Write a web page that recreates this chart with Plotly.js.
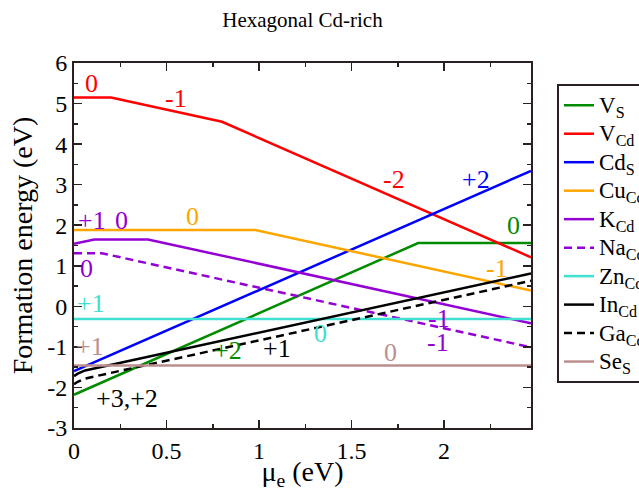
<!DOCTYPE html>
<html>
<head>
<meta charset="utf-8">
<script src="https://cdn.plot.ly/plotly-3.0.1.min.js"></script>
<style>
  html, body { margin: 0; padding: 0; background: #fff; }
  #chart { width: 639px; height: 491px; }
  /* Every label in the figure uses the Times-metric serif face */
  #chart svg text { font-family: 'Liberation Serif', 'Times New Roman', serif !important; }
</style>
</head>
<body>
<div id="chart"></div>
<script>
// Defect formation energies vs. electron chemical potential (Cd-rich, hexagonal)
const muVS = [0, 1.86, 2.47];
const eVS  = [-2.18, 1.56, 1.56];

const muVCd = [0, 0.2, 0.8, 2.47];
const eVCd  = [5.15, 5.15, 4.55, 1.21];

const muCdS = [0, 2.47];
const eCdS  = [-1.60, 3.34];

const muCuCd = [0, 0.98, 2.47];
const eCuCd  = [1.88, 1.88, 0.39];

const muKCd = [0, 0.11, 0.40, 2.47];
const eKCd  = [1.54, 1.65, 1.65, -0.42];

const muNaCd = [0, 0.15, 2.47];
const eNaCd  = [1.31, 1.31, -1.01];

const muZnCd = [0, 2.47];
const eZnCd  = [-0.31, -0.31];

const muInCd = [0, 0.02, 0.06, 2.47];
const eInCd  = [-1.72, -1.66, -1.58, 0.81];

const muGaCd = [0, 0.02, 0.06, 2.47];
const eGaCd  = [-1.92, -1.86, -1.78, 0.63];

const muSeS = [0, 2.47];
const eSeS  = [-1.46, -1.46];

const xTicks = [0, 0.5, 1, 1.5, 2];
const xTickText = ['0', '0.5', '1', '1.5', '2'];
const yTicks = [-3, -2, -1, 0, 1, 2, 3, 4, 5, 6];
const yTickText = ['-3', '-2', '-1', '0', '1', '2', '3', '4', '5', '6'];

// Charge-state labels: text, position (mu, energy) and colour
const chargeText  = ['0', '-1', '-2', '+2', '0', '0', '-1', '+1', '0', '0', '-1', '-1', '+1', '0', '+1', '0', '+2', '+1', '+3,+2'];
const chargeMu    = [0.096, 0.551, 1.728, 2.173, 2.378, 0.641, 2.284, 0.096, 0.258, 0.069, 1.975, 1.970, 0.090, 1.330, 0.086, 1.708, 0.834, 1.095, 0.285];
const chargeE     = [5.49, 5.12, 3.13, 3.12, 1.99, 2.21, 0.93, 2.12, 2.12, 0.94, -0.31, -0.89, 0.07, -0.67, -0.99, -1.13, -1.09, -1.03, -2.28];

const GREEN = '#008b00', RED = '#ff0000', BLUE = '#0000ff', ORANGE = '#ffa500',
      VIOLET = '#9400d3', TURQ = '#40e0d0', BLACK = '#000000', BROWN = '#bc8f8f';
const chargeColor = [RED, RED, RED, BLUE, GREEN, ORANGE, ORANGE, VIOLET, VIOLET, VIOLET, VIOLET, VIOLET,
                     TURQ, TURQ, BROWN, BROWN, GREEN, BLACK, BLACK];

const FONT = 'Liberation Serif';
const FRAME = '#2a2020';

function line(x, y, name, color, dash) {
  return {
    type: 'scatter', mode: 'lines', x: x, y: y,
    name: '<span style="font-size:23px">' + name + '</span>',
    line: { color: color, width: 2.5, dash: dash || 'solid' },
    hoverinfo: 'skip'
  };
}

const traces = [
  line(muVS,   eVS,   'V<sub>S</sub>',   GREEN),
  line(muVCd,  eVCd,  'V<sub>Cd</sub>',  RED),
  line(muCdS,  eCdS,  'Cd<sub>S</sub>',  BLUE),
  line(muCuCd, eCuCd, 'Cu<sub>Cd</sub>', ORANGE),
  line(muKCd,  eKCd,  'K<sub>Cd</sub>',  VIOLET),
  line(muNaCd, eNaCd, 'Na<sub>Cd</sub>', VIOLET, '8px,5px'),
  line(muZnCd, eZnCd, 'Zn<sub>Cd</sub>', TURQ),
  line(muInCd, eInCd, 'In<sub>Cd</sub>', BLACK),
  line(muGaCd, eGaCd, 'Ga<sub>Cd</sub>', BLACK, '8px,5px'),
  line(muSeS,  eSeS,  'Se<sub>S</sub>',  BROWN)
];

const annotations = chargeText.map((t, i) => ({
  text: t, x: chargeMu[i], y: chargeE[i], xref: 'x', yref: 'y',
  showarrow: false, xanchor: 'center', yanchor: 'middle',
  font: { family: FONT, size: 26, color: chargeColor[i] }
}));

const axisCommon = {
  ticks: 'inside', ticklen: 8, tickwidth: 1.5, tickcolor: FRAME,
  showline: true, linewidth: 2, linecolor: FRAME, mirror: 'allticks',
  showgrid: false, zeroline: false,
  tickfont: { family: FONT, size: 24, color: '#000' }
};

const layout = {
  width: 639, height: 491,
  margin: { l: 74, r: 108, t: 63, b: 63, autoexpand: false },
  paper_bgcolor: '#fff', plot_bgcolor: '#fff',
  font: { family: FONT, color: '#000' },
  title: {
    text: 'Hexagonal Cd-rich',
    font: { family: FONT, size: 21, color: '#000' },
    x: 0.5, xref: 'paper', y: 1 - 20 / 491, yref: 'container', yanchor: 'middle'
  },
  xaxis: Object.assign({}, axisCommon, {
    range: [0, 2.47], tickmode: 'array', tickvals: xTicks, ticktext: xTickText,
    minor: { tickmode: 'linear', tick0: 0, dtick: 0.25, ticks: 'inside', ticklen: 4, tickwidth: 1.5, tickcolor: FRAME },
    title: { text: 'μ<sub>e</sub> (eV)', font: { family: FONT, size: 28, color: '#000' }, standoff: 4 }
  }),
  yaxis: Object.assign({}, axisCommon, {
    range: [-3, 6], tickmode: 'array', tickvals: yTicks, ticktext: yTickText,
    minor: { tickmode: 'linear', tick0: 0, dtick: 0.5, ticks: 'inside', ticklen: 4, tickwidth: 1.5, tickcolor: FRAME },
    title: { text: 'Formation energy (eV)', font: { family: FONT, size: 28, color: '#000' }, standoff: 6 }
  }),
  legend: {
    x: (557 - 74) / 457, xanchor: 'left', xref: 'paper',
    y: (428 - 84) / 365, yanchor: 'top', yref: 'paper',
    bgcolor: '#fff', bordercolor: FRAME, borderwidth: 2,
    font: { family: FONT, size: 19.6, color: '#000' },
    tracegroupgap: 0
  },
  showlegend: true,
  annotations: annotations
};

Plotly.newPlot('chart', traces, layout, { staticPlot: true, displayModeBar: false });
</script>
</body>
</html>
